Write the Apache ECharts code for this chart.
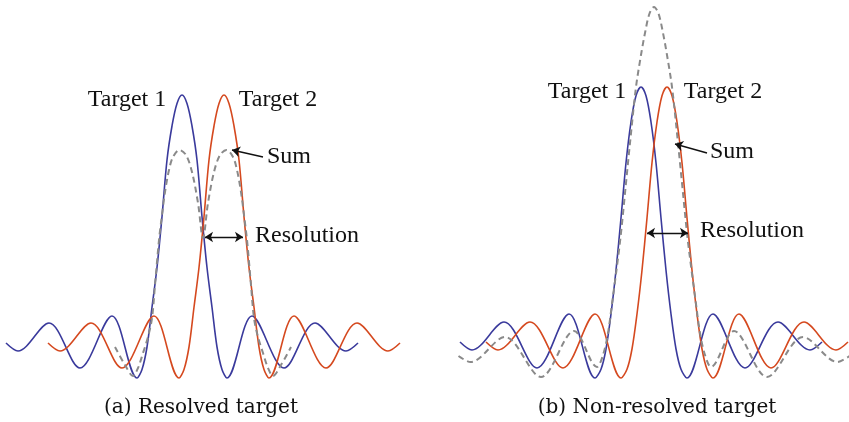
<!DOCTYPE html>
<html><head><meta charset="utf-8">
<script src="https://cdn.jsdelivr.net/npm/echarts@6/dist/echarts.min.js"></script>
<style>html,body{margin:0;padding:0;background:#fff}#c{width:849px;height:422px}</style>
</head><body><div id="c"></div>
<script>
// x: range offset from panel centre (arbitrary units), y: amplitude (% of target peak)
const resolvedTarget1 = [[-197,0.8],[-185,-2.4],[-154,8.8],[-123,-9.2],[-91,11.6],[-66,-13.2],[-61,-9.8],[-56,-0.8],[-51,15.1],[-46,31.0],[-41,51.3],[-36,74.0],[-31,87.6],[-26,96.6],[-21,100],[-16,96.6],[-11,87.6],[-6,74.0],[-1,51.3],[4,31.0],[9,15.1],[14,-0.8],[19,-9.8],[24,-13.2],[49,11.6],[81,-9.2],[112,8.8],[143,-2.4],[155,0.8]];
const resolvedTarget2 = [[-155,0.8],[-143,-2.4],[-112,8.8],[-81,-9.2],[-49,11.6],[-24,-13.2],[-19,-9.8],[-14,-0.8],[-9,15.1],[-4,31.0],[1,51.3],[6,74.0],[11,87.6],[16,96.6],[21,100],[26,96.6],[31,87.6],[36,74.0],[41,51.3],[46,31.0],[51,15.1],[56,-0.8],[61,-9.8],[66,-13.2],[91,11.6],[123,-9.2],[154,8.8],[185,-2.4],[197,0.8]];
const resolvedSum = [[-88,-0.8],[-78,-8.0],[-70,-12.4],[-65,-9.2],[-60,-3.2],[-55,3.2],[-51,10.8],[-48,24.0],[-44,42.0],[-41,52.0],[-38,61.2],[-34,70.0],[-30,75.2],[-23.5,78.0],[-17,76.0],[-11,69.2],[-5,56.8],[0,42.8],[5,56.8],[11,69.2],[17,76.0],[23.5,78.0],[30,75.2],[34,70.0],[38,61.2],[41,52.0],[44,42.0],[48,24.0],[51,10.8],[55,3.2],[60,-3.2],[65,-9.2],[70,-12.4],[78,-8.0],[88,-0.8]];

const unresolvedTarget1 = [[-194,1.2],[-182,-2.0],[-150,9.2],[-117,-9.2],[-85,12.4],[-59,-13.2],[-53,-9.7],[-48,-1.6],[-43,12.4],[-38,29.9],[-33,50.8],[-28,72.9],[-23,89.2],[-18,99.7],[-13,103.2],[-8,99.7],[-3,89.2],[2,72.9],[7,50.8],[12,29.9],[17,12.4],[22,-1.6],[27,-9.7],[33,-13.2],[59,12.4],[91,-9.2],[124,9.2],[156,-2.0],[168,1.2]];
const unresolvedTarget2 = [[-168,1.2],[-156,-2.0],[-124,9.2],[-91,-9.2],[-59,12.4],[-33,-13.2],[-27,-9.7],[-22,-1.6],[-17,12.4],[-12,29.9],[-7,50.8],[-2,72.9],[3,89.2],[8,99.7],[13,103.2],[18,99.7],[23,89.2],[28,72.9],[33,50.8],[38,29.9],[43,12.4],[48,-1.6],[53,-9.7],[59,-13.2],[85,12.4],[117,-9.2],[150,9.2],[182,-2.0],[194,1.2]];
const unresolvedSum = [[-195.5,-4.4],[-183.5,-6.8],[-149,3.2],[-113,-12.8],[-80,5.6],[-57,-8.8],[-51,-4.0],[-46,4.8],[-41.5,18.0],[-37,31.6],[-33,44.8],[-28,64.8],[-24,80.8],[-18,103.2],[-13,116.0],[-9,124.8],[-4.5,132.6],[0,135.2],[4.5,132.6],[9,124.8],[13,116.0],[18,103.2],[24,80.8],[28,64.8],[33,44.8],[37,31.6],[41.5,18.0],[46,4.8],[51,-4.0],[57,-8.8],[80,5.6],[113,-12.8],[149,3.2],[183.5,-6.8],[195.5,-4.4]];

// annotation arrows: [from, to] in data units
const resolvedSumArrow = [[60,75.2],[29,78.0]];
const resolvedResArrow = [[2,43.2],[40,43.2]];
const unresolvedSumArrow = [[53,76.8],[21,80.4]];
const unresolvedResArrow = [[-7,44.8],[34,44.8]];

const labelTexts = ['Target 1','Target 2','Sum','Resolution'];
const captions = ['(a) Resolved target','(b) Non-resolved target'];

const BLUE = '#3a3a9c', RED = '#d5491f', GRAY = '#8a8a8a';

function curve(data, idx, color, dashed){
  return {
    type:'line', xAxisIndex:idx, yAxisIndex:idx, data:data,
    smooth:0.33, showSymbol:false, symbol:'none', silent:true, clip:false,
    lineStyle: dashed ? {color:color,width:2,type:[6,4]} : {color:color,width:1.6},
    z: dashed ? 3 : 2
  };
}
function arrows(sumArr, resArr){
  return {
    silent:true, animation:false, label:{show:false}, symbolSize:8,
    lineStyle:{color:'#111',width:1.3,type:'solid'},
    emphasis:{disabled:true},
    data:[
      [{coord:sumArr[0],symbol:'none'},{coord:sumArr[1],symbol:'arrow'}],
      [{coord:resArr[0],symbol:'arrow'},{coord:resArr[1],symbol:'arrow'}]
    ]
  };
}

const sA = curve(resolvedSum,0,GRAY,true); sA.markLine = arrows(resolvedSumArrow,resolvedResArrow);
const sB = curve(unresolvedSum,1,GRAY,true); sB.markLine = arrows(unresolvedSumArrow,unresolvedResArrow);

const lblFont = '24px "Liberation Serif", "Times New Roman", serif';
const capFont = '20px "DejaVu Serif", serif';
function txt(t,x,y,font){
  return {type:'text',x:x,y:y,silent:true,style:{text:t,font:font,fill:'#111',align:'center',verticalAlign:'middle',textAlign:'center',textVerticalAlign:'middle'}};
}

const chart = echarts.init(document.getElementById('c'));
chart.setOption({
  animation:false,
  backgroundColor:'#fff',
  grid:[{left:0,top:0,width:420,height:422},{left:440,top:0,width:409,height:422}],
  xAxis:[{gridIndex:0,type:'value',min:-203,max:217,show:false},{gridIndex:1,type:'value',min:-214,max:195,show:false}],
  yAxis:[{gridIndex:0,type:'value',min:-30.8,max:138,show:false},{gridIndex:1,type:'value',min:-30.8,max:138,show:false}],
  series:[
    curve(resolvedTarget1,0,BLUE,false), curve(resolvedTarget2,0,RED,false), sA,
    curve(unresolvedTarget1,1,BLUE,false), curve(unresolvedTarget2,1,RED,false), sB
  ],
  graphic:[
    txt(labelTexts[0],127,100,lblFont), txt(labelTexts[1],278,100,lblFont),
    txt(labelTexts[2],289,157,lblFont), txt(labelTexts[3],307,236,lblFont),
    txt(labelTexts[0],587,92,lblFont), txt(labelTexts[1],723,92,lblFont),
    txt(labelTexts[2],732,152,lblFont), txt(labelTexts[3],752,231,lblFont),
    txt(captions[0],201,408,capFont), txt(captions[1],657,408,capFont)
  ]
});
</script></body></html>
